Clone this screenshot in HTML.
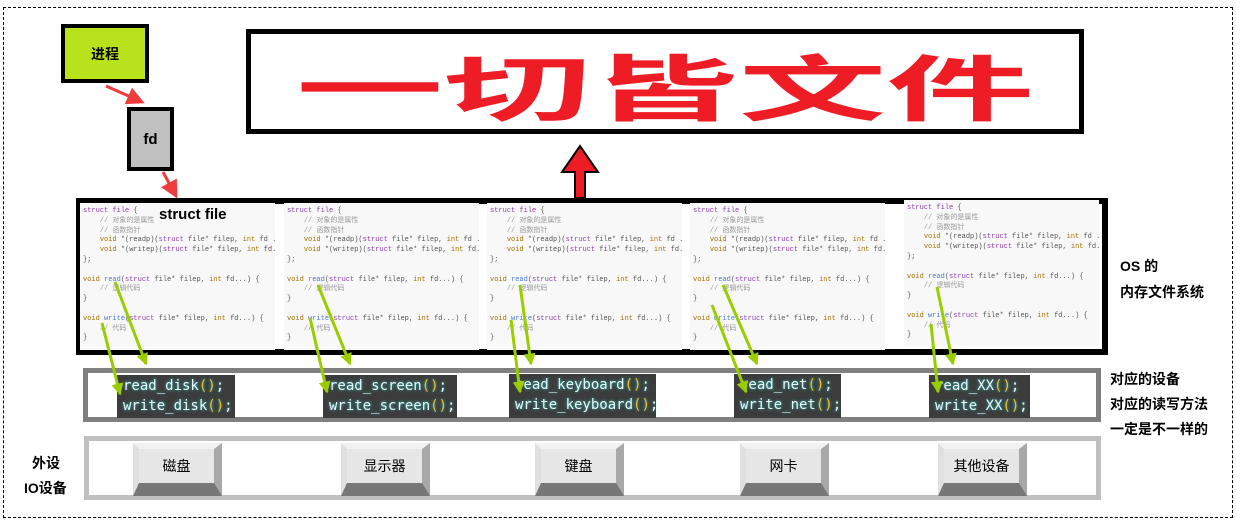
<!DOCTYPE html>
<html><head><meta charset="utf-8"><style>
*{margin:0;padding:0;box-sizing:border-box}
body{width:1236px;height:530px;background:#fff;position:relative;overflow:hidden;font-family:"Liberation Sans","Noto Sans CJK SC",sans-serif}
.a{position:absolute}
.outer{left:3px;top:7px;width:1230px;height:511px;border:1px dashed #000}
.code{position:absolute;background:#f8f8f8;font-family:"Liberation Mono","Noto Sans CJK SC",monospace;font-size:7px;line-height:9.8px;color:#555;padding:4px 3px;white-space:pre;overflow:hidden}
.k{color:#8b3fa8}.c{color:#999}.f{color:#4a7bd0}.t{color:#a07000}
.dark{position:absolute;background:#3c3c3c;font-family:"DejaVu Sans Mono","Liberation Mono",monospace;font-size:14px;line-height:20px;color:#e8f6f8;padding:1px 6px;text-shadow:0 0 3px #3cc;white-space:pre}
.dark b{color:#f0c020;font-weight:normal}
.btn{position:absolute;width:89px;height:53px;background:#e6e6e6;border-style:solid;border-width:6px 8px 13px 6px;border-color:#f2f2f2 #a8a8a8 #777 #e0e0e0;font-size:14px;display:flex;align-items:center;justify-content:center}
.lbl{position:absolute;font-weight:bold;font-size:14px;color:#000}
</style></head><body>
<div class="a outer"></div>

<div class="a" style="left:61px;top:24px;width:88px;height:59px;background:#b8e21c;border:4px solid #000;font-weight:bold;font-size:14px;display:flex;align-items:center;justify-content:center">进程</div>
<div class="a" style="left:127px;top:107px;width:47px;height:64px;background:#c0c0c0;border:4px solid #000;font-weight:bold;font-size:15px;display:flex;align-items:center;justify-content:center">fd</div>

<div class="a" style="left:246px;top:29px;width:838px;height:105px;border:5px solid #000;overflow:hidden"></div>
<div class="a" style="left:296px;top:46px;width:370px;height:76px;line-height:76px;color:#ee1c25;font-size:72px;font-weight:bold;white-space:nowrap;font-family:'Noto Sans CJK SC',sans-serif;transform:scaleX(2.05);transform-origin:0 0">一切皆文件</div>

<div class="a" style="left:76px;top:198px;width:1032px;height:157px;border:6px solid #000;background:#fff"></div>

<div class="code" style="left:80px;top:203px;width:195px;height:147px"><span class="k">struct</span> <span class="k">file</span> {
    <span class="c">// 对象的是属性</span>
    <span class="c">// 函数指针</span>
    <span class="t">void</span> *(readp)(<span class="k">struct</span> file* filep, <span class="t">int</span> fd ...);
    <span class="t">void</span> *(writep)(<span class="k">struct</span> file* filep, <span class="t">int</span> fd...);
};

<span class="t">void</span> <span class="f">read</span>(<span class="k">struct</span> file* filep, <span class="t">int</span> fd...) {
    <span class="c">// 逻辑代码</span>
}

<span class="t">void</span> <span class="f">write</span>(<span class="k">struct</span> file* filep, <span class="t">int</span> fd...) {
    <span class="c">// 代码</span>
}</div>
<div class="code" style="left:284px;top:203px;width:195px;height:147px"><span class="k">struct</span> <span class="k">file</span> {
    <span class="c">// 对象的是属性</span>
    <span class="c">// 函数指针</span>
    <span class="t">void</span> *(readp)(<span class="k">struct</span> file* filep, <span class="t">int</span> fd ...);
    <span class="t">void</span> *(writep)(<span class="k">struct</span> file* filep, <span class="t">int</span> fd...);
};

<span class="t">void</span> <span class="f">read</span>(<span class="k">struct</span> file* filep, <span class="t">int</span> fd...) {
    <span class="c">// 逻辑代码</span>
}

<span class="t">void</span> <span class="f">write</span>(<span class="k">struct</span> file* filep, <span class="t">int</span> fd...) {
    <span class="c">// 代码</span>
}</div>
<div class="code" style="left:487px;top:203px;width:195px;height:147px"><span class="k">struct</span> <span class="k">file</span> {
    <span class="c">// 对象的是属性</span>
    <span class="c">// 函数指针</span>
    <span class="t">void</span> *(readp)(<span class="k">struct</span> file* filep, <span class="t">int</span> fd ...);
    <span class="t">void</span> *(writep)(<span class="k">struct</span> file* filep, <span class="t">int</span> fd...);
};

<span class="t">void</span> <span class="f">read</span>(<span class="k">struct</span> file* filep, <span class="t">int</span> fd...) {
    <span class="c">// 逻辑代码</span>
}

<span class="t">void</span> <span class="f">write</span>(<span class="k">struct</span> file* filep, <span class="t">int</span> fd...) {
    <span class="c">// 代码</span>
}</div>
<div class="code" style="left:690px;top:203px;width:195px;height:147px"><span class="k">struct</span> <span class="k">file</span> {
    <span class="c">// 对象的是属性</span>
    <span class="c">// 函数指针</span>
    <span class="t">void</span> *(readp)(<span class="k">struct</span> file* filep, <span class="t">int</span> fd ...);
    <span class="t">void</span> *(writep)(<span class="k">struct</span> file* filep, <span class="t">int</span> fd...);
};

<span class="t">void</span> <span class="f">read</span>(<span class="k">struct</span> file* filep, <span class="t">int</span> fd...) {
    <span class="c">// 逻辑代码</span>
}

<span class="t">void</span> <span class="f">write</span>(<span class="k">struct</span> file* filep, <span class="t">int</span> fd...) {
    <span class="c">// 代码</span>
}</div>
<div class="code" style="left:904px;top:200px;width:195px;height:146px"><span class="k">struct</span> <span class="k">file</span> {
    <span class="c">// 对象的是属性</span>
    <span class="c">// 函数指针</span>
    <span class="t">void</span> *(readp)(<span class="k">struct</span> file* filep, <span class="t">int</span> fd ...);
    <span class="t">void</span> *(writep)(<span class="k">struct</span> file* filep, <span class="t">int</span> fd...);
};

<span class="t">void</span> <span class="f">read</span>(<span class="k">struct</span> file* filep, <span class="t">int</span> fd...) {
    <span class="c">// 逻辑代码</span>
}

<span class="t">void</span> <span class="f">write</span>(<span class="k">struct</span> file* filep, <span class="t">int</span> fd...) {
    <span class="c">// 代码</span>
}</div>
<div class="lbl" style="left:159px;top:206px;font-size:15px">struct file</div>

<div class="lbl" style="left:1120px;top:256px">OS 的</div>
<div class="lbl" style="left:1120px;top:282px">内存文件系统</div>

<div class="a" style="left:83px;top:368px;width:1018px;height:54px;border:5px solid #808080;background:#fff"></div>
<div class="dark" style="left:117px;top:375px;width:118px;height:43px">read_disk<b>()</b>;
write_disk<b>()</b>;</div>
<div class="dark" style="left:323px;top:375px;width:134px;height:43px">read_screen<b>()</b>;
write_screen<b>()</b>;</div>
<div class="dark" style="left:509px;top:374px;width:147px;height:44px">read_keyboard<b>()</b>;
write_keyboard<b>()</b>;</div>
<div class="dark" style="left:734px;top:374px;width:107px;height:44px">read_net<b>()</b>;
write_net<b>()</b>;</div>
<div class="dark" style="left:929px;top:375px;width:101px;height:43px">read_XX<b>()</b>;
write_XX<b>()</b>;</div>

<div class="lbl" style="left:1110px;top:369px">对应的设备</div>
<div class="lbl" style="left:1110px;top:394px">对应的读写方法</div>
<div class="lbl" style="left:1110px;top:419px">一定是不一样的</div>

<div class="a" style="left:84px;top:436px;width:1017px;height:64px;border:5px solid #c0c0c0;background:#fff"></div>
<div class="btn" style="left:133px;top:443px">磁盘</div>
<div class="btn" style="left:341px;top:443px">显示器</div>
<div class="btn" style="left:535px;top:443px">键盘</div>
<div class="btn" style="left:740px;top:443px">网卡</div>
<div class="btn" style="left:938px;top:443px">其他设备</div>

<div class="lbl" style="left:32px;top:453px">外设</div>
<div class="lbl" style="left:24px;top:478px">IO设备</div>

<svg class="a" style="left:0;top:0" width="1236" height="530">
<defs>
<marker id="r" markerWidth="6" markerHeight="6" refX="5" refY="3" orient="auto" markerUnits="strokeWidth"><path d="M0,0 L6,3 L0,6 z" fill="#f03c3c"/></marker>
<marker id="g" markerWidth="4" markerHeight="4" refX="3.5" refY="2" orient="auto" markerUnits="strokeWidth"><path d="M0,0 L4,2 L0,4 z" fill="#9acd00"/></marker>
</defs>
<line x1="106" y1="86" x2="142" y2="102" stroke="#f03c3c" stroke-width="3" marker-end="url(#r)"/>
<line x1="163" y1="172" x2="176" y2="196" stroke="#f03c3c" stroke-width="3" marker-end="url(#r)"/>
<polygon points="575,198 575,172 562,172 580,146 598,172 585,172 585,198" fill="#ee1c25" stroke="#000" stroke-width="2"/>
<g stroke="#9acd00" stroke-width="3" fill="none">
<line x1="115" y1="282" x2="146" y2="364" marker-end="url(#g)"/>
<line x1="102" y1="323" x2="120" y2="394" marker-end="url(#g)"/>
<line x1="318" y1="285" x2="350" y2="364" marker-end="url(#g)"/>
<line x1="310" y1="318" x2="327" y2="392" marker-end="url(#g)"/>
<line x1="520" y1="285" x2="531" y2="364" marker-end="url(#g)"/>
<line x1="511" y1="320" x2="520" y2="392" marker-end="url(#g)"/>
<line x1="723" y1="285" x2="757" y2="364" marker-end="url(#g)"/>
<line x1="712" y1="305" x2="746" y2="392" marker-end="url(#g)"/>
<line x1="937" y1="287" x2="953" y2="364" marker-end="url(#g)"/>
<line x1="931" y1="324" x2="938" y2="392" marker-end="url(#g)"/>
</g>
</svg>
</body></html>
